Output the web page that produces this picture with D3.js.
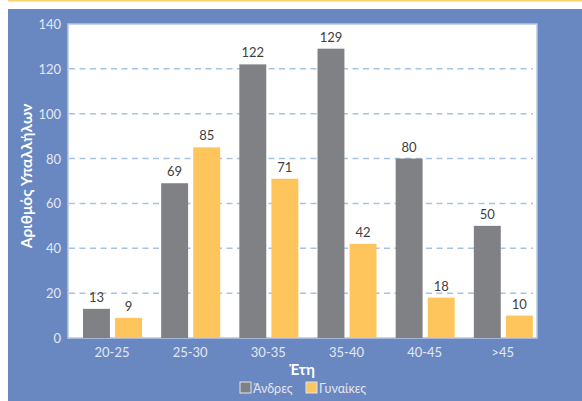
<!DOCTYPE html>
<html>
<head>
<meta charset="utf-8">
<script src="https://cdn.jsdelivr.net/npm/d3@7"></script>
<style>
  body { margin: 0; background: #fff; }
  svg { display: block; font-family: Lato, "Open Sans", sans-serif; }
</style>
</head>
<body>
<div id="chart"></div>
<script>
// chart values
const ageGroups = ["20-25", "25-30", "30-35", "35-40", "40-45", ">45"];
const men = [13, 69, 122, 129, 80, 50];
const women = [9, 85, 71, 42, 18, 10];
const yTicks = [0, 20, 40, 60, 80, 100, 120, 140];
const seriesNames = ["Άνδρες", "Γυναίκες"];
const seriesColors = ["#808184", "#fdc55b"];

const W = 582, H = 401;
const pLeft = 68, pRight = 537, pTop = 24, pBottom = 338;

const svg = d3.select("#chart").append("svg")
    .attr("width", W)
    .attr("height", H);

// background panel
svg.append("rect").attr("x", 8).attr("y", 0).attr("width", W - 8).attr("height", 1.5)
    .attr("fill", "#f9d06e");
svg.append("rect").attr("x", 8).attr("y", 9).attr("width", W - 8).attr("height", H - 9)
    .attr("fill", "#6987c1");

// plot area
svg.append("rect")
    .attr("x", pLeft).attr("y", pTop)
    .attr("width", pRight - pLeft).attr("height", pBottom - pTop)
    .attr("fill", "#fff")
    .attr("stroke", "#b9c6e2")
    .attr("stroke-width", 1.5);

const y = d3.scaleLinear().domain([0, 140]).range([pBottom, pTop]);
const x = d3.scaleBand().domain(ageGroups).range([pLeft, pRight]);
const x1 = d3.scaleBand().domain([0, 1]).range([15, 74]).paddingInner(0.16);

// dashed gridlines
svg.append("g")
    .selectAll("line")
    .data(yTicks.filter(d => d > 0 && d < 140))
    .join("line")
        .attr("x1", pLeft + 1).attr("x2", pRight - 4)
        .attr("y1", d => y(d)).attr("y2", d => y(d))
        .attr("stroke", "#a6c3e2")
        .attr("stroke-width", 1.5)
        .attr("stroke-dasharray", "6,4.5");

// y axis labels
svg.append("g")
    .selectAll("text")
    .data(yTicks)
    .join("text")
        .attr("x", 61)
        .attr("y", d => y(d) + 5)
        .attr("text-anchor", "end")
        .attr("font-size", "13px")
        .attr("fill", "#e4e8f2")
        .text(d => d);

// bars
const rows = ageGroups.map((g, i) => ({ g: g, vals: [men[i], women[i]] }));

const groups = svg.append("g")
    .selectAll("g")
    .data(rows)
    .join("g")
        .attr("transform", d => `translate(${x(d.g)},0)`);

groups.selectAll("rect")
    .data(d => d.vals.map((v, k) => ({ k: k, v: v })))
    .join("rect")
        .attr("x", d => x1(d.k))
        .attr("y", d => y(d.v))
        .attr("width", x1.bandwidth())
        .attr("height", d => pBottom - y(d.v))
        .attr("fill", d => seriesColors[d.k]);

groups.selectAll("text")
    .data(d => d.vals.map((v, k) => ({ k: k, v: v })))
    .join("text")
        .attr("x", d => x1(d.k) + x1.bandwidth() / 2)
        .attr("y", d => y(d.v) - 7)
        .attr("text-anchor", "middle")
        .attr("font-size", "13px")
        .attr("fill", "#404040")
        .text(d => d.v);

// x axis labels
svg.append("g")
    .selectAll("text")
    .data(ageGroups)
    .join("text")
        .attr("x", d => x(d) + 44)
        .attr("y", 357)
        .attr("text-anchor", "middle")
        .attr("font-size", "13px")
        .attr("fill", "#e4e8f2")
        .text(d => d);

// axis titles
svg.append("text")
    .attr("x", 302)
    .attr("y", 375)
    .attr("text-anchor", "middle")
    .attr("font-size", "15px")
    .attr("font-weight", "bold")
    .attr("fill", "#fff")
    .text("Έτη");

svg.append("text")
    .attr("transform", "rotate(-90)")
    .attr("x", -176)
    .attr("y", 32)
    .attr("text-anchor", "middle")
    .attr("font-size", "15.5px")
    .attr("font-weight", "bold")
    .attr("fill", "#fff")
    .text("Αριθμός Υπαλλήλων");

// legend
const legendX = [240, 306];
const legend = svg.append("g")
    .selectAll("g")
    .data(seriesNames)
    .join("g")
        .attr("transform", (d, i) => `translate(${legendX[i]},382)`);

legend.append("rect")
    .attr("width", 11).attr("height", 11)
    .attr("fill", (d, i) => seriesColors[i])
    .attr("stroke", "#dfe4f0")
    .attr("stroke-width", 1);

legend.append("text")
    .attr("x", 13)
    .attr("y", 11)
    .attr("font-size", "12.5px")
    .attr("fill", "#e4e8f2")
    .text(d => d);
</script>
</body>
</html>
